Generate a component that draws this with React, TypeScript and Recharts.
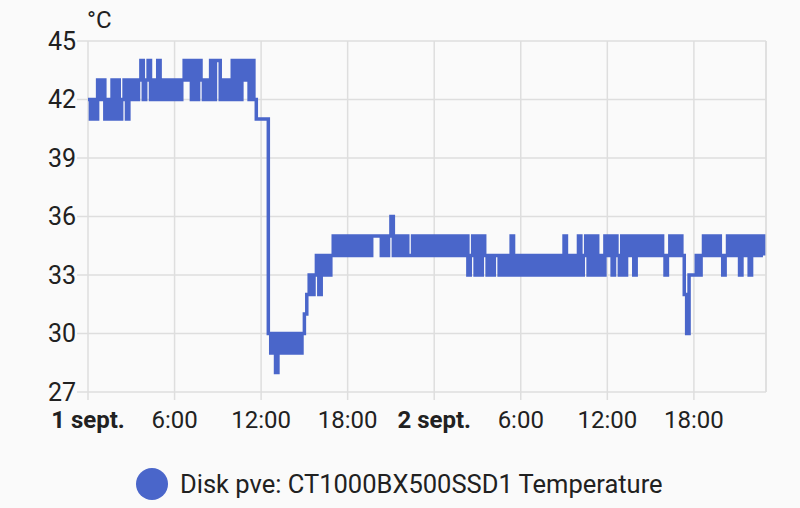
import React from "react";
import {
  LineChart,
  Line,
  XAxis,
  YAxis,
  CartesianGrid,
  ReferenceLine,
} from "recharts";

// one reading every 10 minutes, one row per hour
const sept1 = [
  42, 41, 42, 41, 43, 42,
  43, 41, 42, 41, 43, 41,
  43, 41, 42, 43, 41, 43,
  42, 43, 42, 43, 44, 42,
  43, 44, 42, 43, 42, 44,
  42, 43, 42, 43, 42, 43,
  42, 43, 42, 43, 44, 43,
  44, 42, 44, 42, 44, 43,
  42, 43, 42, 44, 42, 44,
  44, 42, 43, 42, 43, 42,
  44, 42, 44, 42, 44, 43,
  44, 42, 44, 42, 41, 41,
  41, 41, 41, 30, 29, 30,
  28, 30, 29, 30, 29, 30,
  29, 30, 29, 30, 29, 30,
  31, 32, 33, 32, 33, 34,
  32, 34, 33, 34, 33, 34,
  35, 34, 35, 34, 35, 34,
  35, 34, 35, 34, 35, 34,
  35, 34, 35, 34, 35, 35,
  35, 35, 34, 35, 34, 35,
  36, 34, 35, 34, 35, 34,
  35, 34, 34, 35, 34, 35,
  34, 35, 34, 35, 34, 35,
];

const sept2 = [
  34, 35, 34, 35, 34, 35,
  34, 35, 34, 35, 34, 35,
  34, 35, 33, 34, 35, 33,
  35, 33, 35, 34, 33, 34,
  33, 34, 34, 33, 34, 33,
  34, 33, 35, 33, 34, 33,
  34, 33, 34, 33, 34, 33,
  34, 33, 34, 33, 34, 33,
  34, 33, 34, 33, 34, 33,
  35, 33, 34, 33, 34, 33,
  35, 33, 34, 35, 33, 35,
  33, 35, 33, 34, 33, 35,
  34, 35, 33, 35, 34, 33,
  35, 33, 35, 34, 35, 33,
  35, 34, 35, 34, 35, 34,
  35, 34, 35, 34, 35, 34,
  33, 34, 35, 34, 35, 34,
  35, 34, 32, 30, 33, 33,
  33, 34, 33, 34, 35, 34,
  35, 34, 35, 34, 35, 34,
  33, 34, 35, 34, 35, 34,
  35, 33, 35, 34, 35, 33,
  35, 34, 35, 34, 35, 34,
];

const xTicks = [0, 6, 12, 18, 24, 30, 36, 42];
const xLabels = ["1 sept.", "6:00", "12:00", "18:00", "2 sept.", "6:00", "12:00", "18:00"];
const yTicks = [27, 30, 33, 36, 39, 42, 45];

const data = [...sept1, ...sept2].map((temp, i) => ({ t: i / 6, temp }));

const BLUE = "#4a66ca";
const GRID = "#dedede";
const TEXT = "#212121";
const FONT = "Roboto, sans-serif";

const TimeTick = (props: any) => {
  const { x, y, payload } = props;
  const idx = xTicks.indexOf(payload.value);
  const label = xLabels[idx] ?? "";
  const bold = label.includes("sept");
  return (
    <text
      x={x}
      y={y}
      dy="0.71em"
      textAnchor="middle"
      fill={TEXT}
      fontSize={24}
      fontFamily={FONT}
      fontWeight={bold ? 700 : 400}
    >
      {label}
    </text>
  );
};

export default function App() {
  return (
    <div
      style={{
        position: "fixed",
        left: 0,
        top: 0,
        width: 800,
        height: 508,
        background: "#fafafa",
        fontFamily: FONT,
      }}
    >
      <div
        style={{
          position: "absolute",
          left: 87,
          top: 6,
          fontSize: 24,
          color: TEXT,
        }}
      >
        °C
      </div>
      <LineChart
        width={800}
        height={460}
        data={data}
        margin={{ top: 41, right: 34, left: 0, bottom: 18 }}
      >
        <CartesianGrid stroke={GRID} strokeWidth={1.5} />
        <XAxis
          dataKey="t"
          type="number"
          domain={[0, 47]}
          ticks={xTicks}
          interval={0}
          axisLine={false}
          tickLine={{ stroke: GRID, strokeWidth: 1.5 }}
          tickSize={8}
          tickMargin={11}
          height={50}
          tick={<TimeTick />}
        />
        <YAxis
          type="number"
          domain={[27, 45]}
          ticks={yTicks}
          interval={0}
          width={88}
          axisLine={false}
          tickLine={{ stroke: GRID, strokeWidth: 1.5 }}
          tickSize={11}
          tickMargin={1}
          tick={{ fill: TEXT, fontSize: 25, fontFamily: FONT }}
        />
        <ReferenceLine x={47} stroke={GRID} strokeWidth={1.5} />
        <Line
          type="stepAfter"
          dataKey="temp"
          stroke={BLUE}
          strokeWidth={3.5}
          dot={false}
          isAnimationActive={false}
        />
      </LineChart>
      <div
        style={{
          position: "absolute",
          left: 136,
          top: 468,
          display: "flex",
          alignItems: "center",
          fontSize: 25.5,
          color: TEXT,
        }}
      >
        <span
          style={{
            display: "inline-block",
            width: 32,
            height: 32,
            borderRadius: "50%",
            background: BLUE,
            marginRight: 12,
          }}
        />
        Disk pve: CT1000BX500SSD1 Temperature
      </div>
    </div>
  );
}
